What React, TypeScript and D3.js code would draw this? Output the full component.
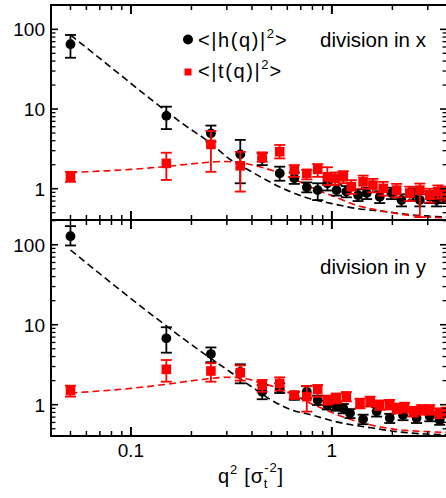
import React from "react";
import * as d3 from "d3";

// ---------- data (q^2 in units of sigma_t^-2) ----------
// Top panel: division in x
const topHQ = [0.05, 0.15, 0.25, 0.35, 0.45, 0.55, 0.65, 0.75, 0.85, 0.95, 1.055, 1.18, 1.35, 1.49, 1.73, 1.98, 2.22, 2.54, 2.74, 3.07, 3.32, 3.58];
const topHV = [65, 8.2, 4.95, 2.7, 2.4, 1.56, 1.35, 1.04, 0.96, 1.17, 0.96, 0.92, 0.83, 0.88, 0.79, 0.88, 0.72, 0.86, 0.72, 0.79, 0.72, 0.79];
const topHLo = [44, 5.6, 3.9, 1.17, 1.98, 1.26, 1.15, 0.9, 0.72, 0.95, 0.82, 0.78, 0.7, 0.74, 0.66, 0.74, 0.6, 0.72, 0.6, 0.66, 0.6, 0.66];
const topHHi = [85, 10.7, 6.2, 4.1, 2.8, 1.89, 1.6, 1.2, 1.17, 1.4, 1.12, 1.08, 0.98, 1.03, 0.93, 1.03, 0.85, 1.01, 0.85, 0.93, 0.85, 0.93];

const topTQ = [0.05, 0.15, 0.25, 0.35, 0.45, 0.55, 0.65, 0.75, 0.85, 0.95, 1.035, 1.14, 1.25, 1.43, 1.6, 1.8, 2.1, 2.44, 2.74, 3.07, 3.37, 3.65];
const topTV = [1.42, 2.08, 3.6, 1.94, 2.52, 2.91, 1.72, 1.56, 1.75, 1.41, 1.35, 1.41, 1.06, 1.22, 1.11, 1.01, 0.96, 0.88, 0.96, 0.83, 0.92, 0.88];
const topTLo = [1.22, 1.29, 1.63, 0.92, 2.18, 2.4, 1.41, 1.31, 1.41, 1.11, 1.12, 1.17, 0.86, 1.0, 0.9, 0.82, 0.78, 0.7, 0.44, 0.67, 0.75, 0.7];
const topTHi = [1.63, 2.83, 5.3, 2.9, 2.86, 3.54, 1.98, 1.72, 2.04, 1.86, 1.6, 1.66, 1.28, 1.46, 1.33, 1.22, 1.15, 1.06, 1.16, 1.0, 1.1, 1.06];

// Bottom panel: division in y
const botHQ = [0.05, 0.15, 0.25, 0.35, 0.45, 0.55, 0.65, 0.75, 0.85, 0.95, 1.05, 1.14, 1.23, 1.43, 1.67, 1.94, 2.26, 2.64, 3.07, 3.44];
const botHV = [128, 6.76, 4.3, 2.58, 1.45, 1.6, 1.3, 1.45, 1.14, 0.99, 0.96, 0.9, 0.78, 0.66, 0.82, 0.68, 0.74, 0.68, 0.71, 0.64];
const botHLo = [98, 4.47, 3.4, 1.85, 1.17, 1.4, 1.15, 1.2, 0.99, 0.87, 0.84, 0.78, 0.68, 0.57, 0.71, 0.59, 0.64, 0.59, 0.62, 0.56];
const botHHi = [171, 9.3, 5.2, 3.2, 1.76, 1.85, 1.45, 1.7, 1.3, 1.12, 1.08, 1.02, 0.88, 0.75, 0.93, 0.77, 0.84, 0.77, 0.8, 0.73];

const botTQ = [0.05, 0.15, 0.25, 0.35, 0.45, 0.55, 0.65, 0.75, 0.85, 0.95, 1.05, 1.18, 1.38, 1.55, 1.73, 1.94, 2.1, 2.3, 2.54, 2.8, 3.07, 3.44, 3.7];
const botTV = [1.5, 2.77, 2.64, 2.51, 1.76, 1.85, 1.32, 1.26, 1.56, 1.14, 1.2, 1.26, 1.04, 1.1, 0.99, 1.0, 0.9, 0.92, 0.82, 0.86, 0.86, 0.78, 0.8];
const botTLo = [1.26, 1.94, 1.94, 2.0, 1.45, 1.5, 1.2, 0.82, 1.26, 1.0, 1.04, 1.1, 0.9, 0.95, 0.86, 0.87, 0.78, 0.8, 0.71, 0.75, 0.75, 0.68, 0.7];
const botTHi = [1.73, 3.62, 3.3, 3.1, 2.04, 2.2, 1.45, 1.71, 1.76, 1.3, 1.38, 1.44, 1.19, 1.26, 1.13, 1.15, 1.03, 1.06, 0.94, 0.99, 0.99, 0.9, 0.92];

// Dashed fit curves
const topHFitQ = [0.05, 0.08, 0.124, 0.18, 0.25, 0.31, 0.39, 0.49, 0.62, 0.78, 1.0, 1.3, 1.8, 2.5, 3.74];
const topHFitV = [85, 33, 13.6, 6.6, 3.7, 2.35, 1.68, 1.22, 0.92, 0.75, 0.65, 0.57, 0.52, 0.47, 0.44];
const topTFitQ = [0.05, 0.1, 0.15, 0.22, 0.29, 0.36, 0.45, 0.55, 0.68, 0.82, 1.0, 1.33, 1.75, 2.5, 3.74];
const topTFitV = [1.6, 1.75, 1.9, 2.1, 2.2, 2.1, 1.85, 1.57, 1.25, 1.0, 0.82, 0.62, 0.53, 0.46, 0.43];
const botHFitQ = [0.05, 0.134, 0.212, 0.311, 0.42, 0.5, 0.63, 0.8, 1.0, 1.25, 1.6, 2.1, 2.9, 3.74];
const botHFitV = [86, 12, 5.07, 2.58, 1.53, 1.14, 0.86, 0.74, 0.63, 0.56, 0.51, 0.46, 0.43, 0.42];
const botTFitQ = [0.05, 0.1, 0.15, 0.22, 0.3, 0.36, 0.45, 0.55, 0.67, 0.84, 1.0, 1.18, 1.55, 2.1, 3.0, 3.74];
const botTFitV = [1.4, 1.6, 1.8, 2.05, 2.2, 2.15, 1.85, 1.58, 1.26, 0.96, 0.8, 0.68, 0.56, 0.49, 0.46, 0.45];

const xMajor = [0.1, 1];
const xMinor = [0.04, 0.05, 0.06, 0.07, 0.08, 0.09, 0.2, 0.3, 0.4, 0.5, 0.6, 0.7, 0.8, 0.9, 2, 3];
const yMajor = [1, 10, 100];
const yMinor = [0.5, 0.6, 0.7, 0.8, 0.9, 2, 3, 4, 5, 6, 7, 8, 9, 20, 30, 40, 50, 60, 70, 80, 90, 200];
const xTickLabels = ["0.1", "1"];
const yTickLabels = ["1", "10", "100"];

const RED = "#ff0000";
const FONT = "'Liberation Sans', Arial, Helvetica, sans-serif";

const L = 51, R = 447;
const x = d3.scaleLog().domain([0.04, 3.74]).range([L, R]);

type Series = { q: number[]; v: number[]; lo: number[]; hi: number[] };

function Panel({ top, bottom, yDom, label, labelY, h, t, hFit, tFit, id }: any) {
  const y = d3.scaleLog().domain(yDom).range([bottom, top]);
  const line = d3
    .line<[number, number]>()
    .x((d) => x(d[0]))
    .y((d) => y(d[1]))
    .curve(d3.curveMonotoneX);
  const hPts = hFit.q.map((q: number, i: number) => [q, hFit.v[i]] as [number, number]);
  const tPts = tFit.q.map((q: number, i: number) => [q, tFit.v[i]] as [number, number]);
  const cap = 5.5;
  const errBars = (s: Series, color: string) =>
    s.q.map((q, i) => {
      const cx = x(q);
      return (
        <g key={i} stroke={color} strokeWidth={1.8}>
          <line x1={cx} x2={cx} y1={y(s.lo[i])} y2={y(s.hi[i])} />
          <line x1={cx - cap} x2={cx + cap} y1={y(s.lo[i])} y2={y(s.lo[i])} />
          <line x1={cx - cap} x2={cx + cap} y1={y(s.hi[i])} y2={y(s.hi[i])} />
        </g>
      );
    });
  return (
    <g>
      <defs>
        <clipPath id={id}>
          <rect x={L} y={top} width={R - L} height={bottom - top} />
        </clipPath>
      </defs>
      <g clipPath={`url(#${id})`}>
        <path d={line(hPts) || ""} fill="none" stroke="#000" strokeWidth={1.6} strokeDasharray="7,4" />
        <path d={line(tPts) || ""} fill="none" stroke={RED} strokeWidth={1.6} strokeDasharray="7,4" />
        {errBars(h, "#000")}
        {h.q.map((q: number, i: number) => (
          <circle key={i} cx={x(q)} cy={y(h.v[i])} r={4.9} fill="#000" />
        ))}
        {errBars(t, RED)}
        {t.q.map((q: number, i: number) => (
          <rect key={i} x={x(q) - 4.8} y={y(t.v[i]) - 4.8} width={9.6} height={9.6} fill={RED} />
        ))}
      </g>
      {/* frame */}
      <rect x={L} y={top} width={R - L} height={bottom - top} fill="none" stroke="#000" strokeWidth={2} />
      {/* x ticks, bottom & top */}
      {xMajor.map((v) => (
        <g key={"xM" + v} stroke="#000" strokeWidth={2}>
          <line x1={x(v)} x2={x(v)} y1={bottom} y2={bottom - 9} />
          <line x1={x(v)} x2={x(v)} y1={top} y2={top + 9} />
        </g>
      ))}
      {xMinor.map((v) => (
        <g key={"xm" + v} stroke="#000" strokeWidth={1.5}>
          <line x1={x(v)} x2={x(v)} y1={bottom} y2={bottom - 5} />
          <line x1={x(v)} x2={x(v)} y1={top} y2={top + 5} />
        </g>
      ))}
      {/* y ticks, left & right */}
      {yMajor.map((v) => (
        <g key={"yM" + v} stroke="#000" strokeWidth={1.6}>
          <line x1={L} x2={L + 7} y1={y(v)} y2={y(v)} />
          <line x1={R} x2={R - 7} y1={y(v)} y2={y(v)} />
        </g>
      ))}
      {yMinor.map((v) => (
        <g key={"ym" + v} stroke="#000" strokeWidth={1.3}>
          <line x1={L} x2={L + 4.5} y1={y(v)} y2={y(v)} />
          <line x1={R} x2={R - 4.5} y1={y(v)} y2={y(v)} />
        </g>
      ))}
      {yMajor.map((v, i) => (
        <text key={"yl" + v} x={45} y={y(v)} dy="0.36em" textAnchor="end" fontSize={19} fontFamily={FONT}>
          {yTickLabels[i]}
        </text>
      ))}
      <text x={320} y={labelY} fontSize={20.5} fontFamily={FONT}>
        {label}
      </text>
    </g>
  );
}

export default function App() {
  return (
    <svg
      width={446}
      height={498}
      style={{ position: "absolute", left: 0, top: 0, background: "#fff" }}
      fontFamily={FONT}
    >
      <rect x={0} y={0} width={446} height={498} fill="#fff" />
      <Panel
        id="clipTop"
        top={5}
        bottom={220}
        yDom={[0.405, 202]}
        label="division in x"
        labelY={46.5}
        h={{ q: topHQ, v: topHV, lo: topHLo, hi: topHHi }}
        t={{ q: topTQ, v: topTV, lo: topTLo, hi: topTHi }}
        hFit={{ q: topHFitQ, v: topHFitV }}
        tFit={{ q: topTFitQ, v: topTFitV }}
      />
      <Panel
        id="clipBot"
        top={220}
        bottom={436}
        yDom={[0.406, 204]}
        label="division in y"
        labelY={274}
        h={{ q: botHQ, v: botHV, lo: botHLo, hi: botHHi }}
        t={{ q: botTQ, v: botTV, lo: botTLo, hi: botTHi }}
        hFit={{ q: botHFitQ, v: botHFitV }}
        tFit={{ q: botTFitQ, v: botTFitV }}
      />
      {/* legend */}
      <circle cx={188} cy={39.5} r={5} fill="#000" />
      <text x={198} y={46.5} fontSize={20} letterSpacing={1.6}>
        {"<|h(q)|"}
        <tspan dy={-9} fontSize={13} letterSpacing={0}>2</tspan>
        <tspan dy={9} dx={1}>{">"}</tspan>
      </text>
      <rect x={184.5} y={68.5} width={7} height={7} fill={RED} />
      <text x={198} y={78} fontSize={20} letterSpacing={1.6}>
        {"<|t(q)|"}
        <tspan dy={-9} fontSize={13} letterSpacing={0}>2</tspan>
        <tspan dy={9} dx={1}>{">"}</tspan>
      </text>
      {/* x tick labels */}
      {xMajor.map((v, i) => (
        <text key={"xl" + v} x={x(v)} y={457} textAnchor="middle" fontSize={19}>
          {xTickLabels[i]}
        </text>
      ))}
      {/* x axis title */}
      <text x={218} y={483} fontSize={20} letterSpacing={0.8}>
        {"q"}
        <tspan dy={-9} fontSize={13}>2</tspan>
        <tspan dy={9}>{" [σ"}</tspan>
        <tspan dy={5} fontSize={13}>t</tspan>
        <tspan dy={-16} dx={-4} fontSize={13}>-2</tspan>
        <tspan dy={11}>]</tspan>
      </text>
    </svg>
  );
}
